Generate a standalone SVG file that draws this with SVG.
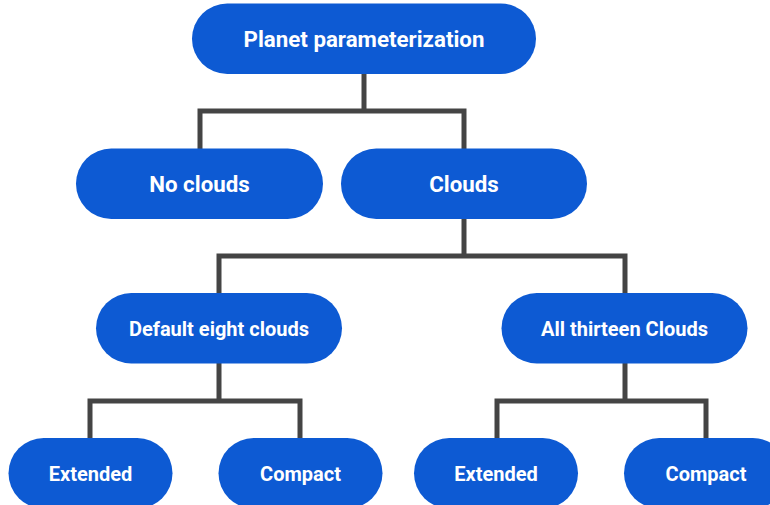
<svg xmlns="http://www.w3.org/2000/svg" width="770" height="505" viewBox="0 0 770 505">
<style>
.n{fill:#0d5ad3}
.t{fill:#fff;font-family:Roboto,"Liberation Sans",sans-serif;font-weight:700;font-size:20px;text-anchor:middle;dominant-baseline:central}
.L{font-size:22.3px}
.c{fill:none;stroke:#444;stroke-width:5;stroke-linejoin:miter}
</style>
<rect width="770" height="505" fill="#fff"/>
<g id="connectors">
<path class="c" d="M364 74V111M200 150V111H464V150"/>
<path class="c" d="M464 219V256M219 295V256H625V295"/>
<path class="c" d="M219 363V401M90 440V401H300V440"/>
<path class="c" d="M625 363V401M497 440V401H706V440"/>
</g>
<g id="root"><rect class="n" x="192" y="3.5" width="344" height="70.5" rx="35.25"/><text class="t L" x="364" y="39">Planet parameterization</text></g>
<g id="noclouds"><rect class="n" x="76" y="148.5" width="247" height="70.5" rx="35.25"/><text class="t L" x="199.5" y="184">No clouds</text></g>
<g id="clouds"><rect class="n" x="341" y="148.5" width="246" height="70.5" rx="35.25"/><text class="t L" x="464" y="184">Clouds</text></g>
<g id="default8"><rect class="n" x="96" y="293" width="246" height="70.5" rx="35.25"/><text class="t" x="219" y="328.5">Default eight clouds</text></g>
<g id="all13"><rect class="n" x="501.5" y="293" width="246" height="70.5" rx="35.25"/><text class="t" x="624.5" y="328.5">All thirteen Clouds</text></g>
<g id="ext1"><rect class="n" x="8.5" y="438" width="164" height="70.5" rx="35.25"/><text class="t" x="90.5" y="473.5">Extended</text></g>
<g id="comp1"><rect class="n" x="218.5" y="438" width="164" height="70.5" rx="35.25"/><text class="t" x="300.5" y="473.5">Compact</text></g>
<g id="ext2"><rect class="n" x="414" y="438" width="164" height="70.5" rx="35.25"/><text class="t" x="496" y="473.5">Extended</text></g>
<g id="comp2"><rect class="n" x="624" y="438" width="164" height="70.5" rx="35.25"/><text class="t" x="706" y="473.5">Compact</text></g>
</svg>
